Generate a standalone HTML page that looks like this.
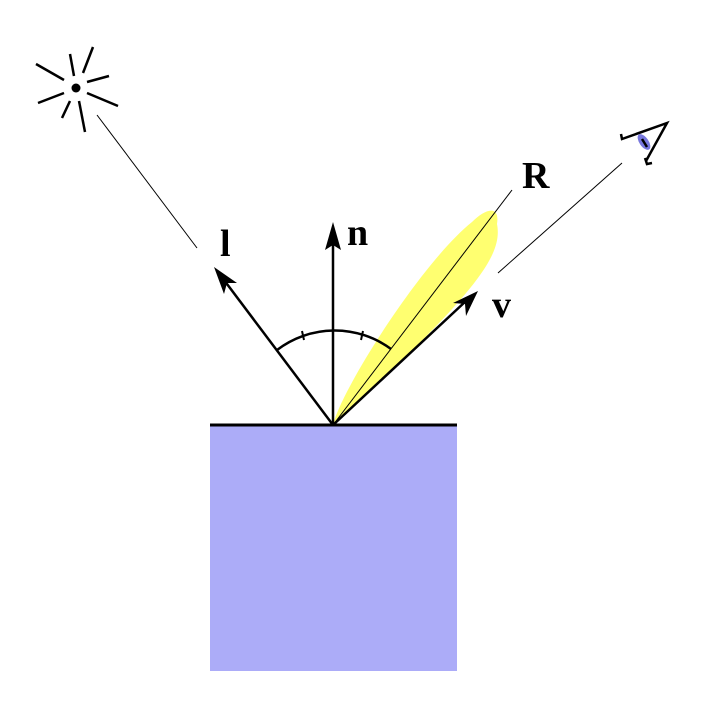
<!DOCTYPE html>
<html><head><style>body{margin:0;background:#fff}svg{display:block}</style></head>
<body>
<svg width="708" height="710" viewBox="0 0 708 710" xmlns="http://www.w3.org/2000/svg">
<rect x="210" y="426" width="247" height="245" fill="#acacf8"/>
<path d="M333,425 C342,388 422,262 472,222 C486,208 500,205 497,224 C503,255 478,292 333,425 Z" fill="#ffff70"/>
<line x1="210" y1="425" x2="457" y2="425" stroke="#000" stroke-width="3"/>
<g stroke="#000" fill="none">
<line x1="333" y1="425" x2="512" y2="190" stroke-width="1"/>
<line x1="97" y1="115" x2="197" y2="248" stroke-width="1"/>
<line x1="498" y1="273" x2="622" y2="163" stroke-width="1"/>
<line x1="333" y1="425" x2="333" y2="238" stroke-width="2.5"/>
<line x1="333" y1="425" x2="224" y2="280" stroke-width="2.5"/>
<line x1="333" y1="425" x2="466" y2="301" stroke-width="2.5"/>
<path d="M277,350 A95,95 0 0 1 391,349" stroke-width="2.5"/>
<line x1="302" y1="331" x2="304" y2="340" stroke-width="2"/>
<line x1="363" y1="331" x2="361" y2="340" stroke-width="2"/>
</g>
<path d="M333,222 L341,250 L333,245 L325,250 Z" fill="#000"/>
<path d="M214,267 L237,283 L227,283 L224,294 Z" fill="#000"/>
<path d="M478,291 L466,316 L465,304 L453,303 Z" fill="#000"/>
<!-- sun -->
<circle cx="76" cy="88" r="4.5" fill="#000"/>
<g stroke="#000" stroke-width="2.5">
<line x1="36" y1="64" x2="64" y2="80"/>
<line x1="70" y1="54" x2="74" y2="76"/>
<line x1="93" y1="47" x2="83" y2="73"/>
<line x1="87" y1="82" x2="109" y2="76"/>
<line x1="87" y1="93" x2="118" y2="106"/>
<line x1="79" y1="101" x2="85" y2="132"/>
<line x1="70" y1="101" x2="62" y2="118"/>
<line x1="64" y1="93" x2="38" y2="103"/>
</g>
<!-- eye -->
<ellipse cx="644" cy="142" rx="9" ry="4.5" transform="rotate(55 644 142)" fill="#7777dd"/>
<path d="M642,139 L647,147" stroke="#000" stroke-width="2.5"/>
<path d="M621,134 L622,139 L667,123 L646,161" stroke="#000" stroke-width="2.5" fill="none"/>
<path d="M645,158 L647,164 L652,163" stroke="#000" stroke-width="2.5" fill="none"/>
<g font-family="Liberation Serif, serif" font-weight="bold" font-size="38" fill="#000">
<text x="220" y="256">l</text>
<text x="347" y="245">n</text>
<text x="522" y="188">R</text>
<text x="492" y="317">v</text>
</g>
</svg>
</body></html>
